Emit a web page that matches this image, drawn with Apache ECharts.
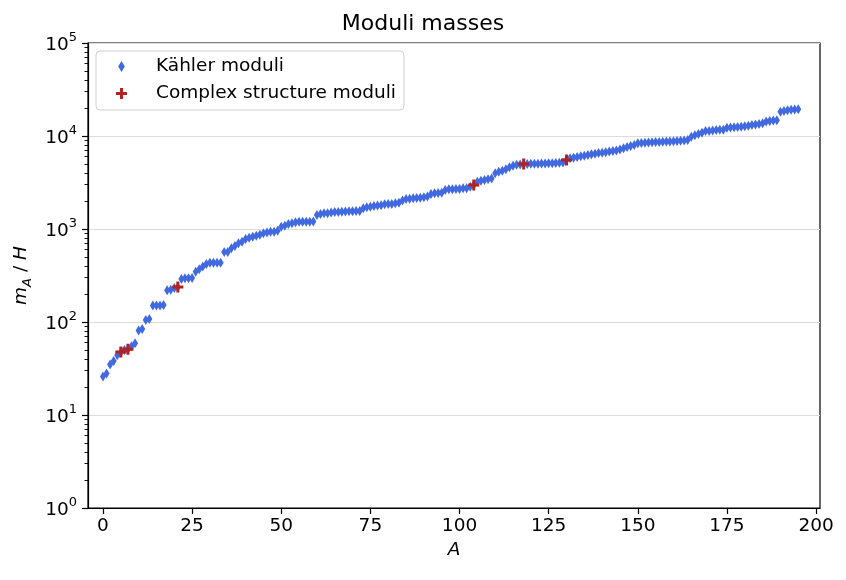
<!DOCTYPE html>
<html><head><meta charset="utf-8">
<script src="https://cdn.jsdelivr.net/npm/echarts@6/dist/echarts.min.js"></script>
<style>html,body{margin:0;padding:0;background:#fff}#c{width:846px;height:580px}</style>
</head><body><div id="c"></div>
<script>
// Kähler moduli masses m_A/H, index A = 0..195
const kahlerMasses = [
  26, 28, 35, 38, 44, 47, 50, 51, 55, 59,
  81, 84, 105, 108, 150, 150, 150, 152, 220, 222,
  232, 238, 290, 295, 295, 297, 347, 370, 394, 421,
  434, 434, 434, 434, 566, 566, 620, 656, 701, 730,
  780, 806, 826, 847, 868, 898, 919, 937, 937, 960,
  1060, 1085, 1132, 1152, 1180, 1195, 1198, 1200, 1200, 1205,
  1415, 1450, 1476, 1480, 1500, 1520, 1525, 1535, 1540, 1550,
  1555, 1560, 1565, 1670, 1710, 1730, 1766, 1790, 1800, 1842,
  1857, 1860, 1888, 1918, 2030, 2100, 2120, 2137, 2150, 2172,
  2200, 2240, 2379, 2420, 2440, 2460, 2626, 2672, 2680, 2694,
  2700, 2740, 2740, 2851, 2972, 3228, 3307, 3363, 3422, 3500,
  3970, 4132, 4237, 4387, 4600, 4800, 4900, 4950, 5000, 5010,
  5020, 5030, 5040, 5050, 5060, 5080, 5100, 5120, 5150, 5200,
  5523, 5754, 5850, 5950, 6050, 6150, 6250, 6350, 6450, 6550,
  6620, 6700, 6800, 6900, 7000, 7150, 7380, 7600, 7800, 8000,
  8340, 8400, 8450, 8500, 8550, 8600, 8640, 8690, 8720, 8750,
  8800, 8850, 8900, 8950, 9060, 9840, 10200, 10500, 10840, 11320,
  11350, 11450, 11600, 11650, 11700, 12280, 12350, 12450, 12500, 12590,
  12700, 12900, 13130, 13300, 13500, 13700, 14300, 14500, 14700, 14750,
  18250, 18600, 18900, 19100, 19300, 19360
];
// Complex structure moduli
const complexIndex = [5, 7, 21, 104, 118, 130];
const complexMasses = [47.6, 51, 238, 2972, 5000, 5523];

const xTicks = [0, 25, 50, 75, 100, 125, 150, 175, 200];
const yTicks = [1, 10, 100, 1000, 10000, 100000];
const yMinorTicks = [];
for (let d = 0; d < 5; d++) for (let k = 2; k <= 9; k++) yMinorTicks.push(k * Math.pow(10, d));

const FONT = 'DejaVu Sans';
const diamond = 'path://M3,0L6,5L3,10L0,5Z';
const plus = 'path://M4,0H7V4H11V7H7V11H4V7H0V4H4Z';

const chart = echarts.init(document.getElementById('c'), null, {renderer: 'canvas'});
chart.setOption({
  animation: false,
  backgroundColor: '#fff',
  textStyle: {fontFamily: FONT, color: '#000'},
  title: {
    text: 'Moduli masses', left: 'center', top: 8,
    textStyle: {fontFamily: FONT, fontSize: 22, fontWeight: 'normal', color: '#000'}
  },
  grid: {left: 88, right: 26, top: 43, bottom: 72, show: true, borderColor: '#000', borderWidth: 1.2, backgroundColor: 'transparent'},
  legend: {
    orient: 'vertical', left: 96, top: 51,
    padding: [6, 8, 7, 20], itemGap: 8,
    itemWidth: 11, itemHeight: 11,
    borderColor: '#d0d0d0', borderWidth: 1, borderRadius: 4, backgroundColor: '#fff',
    formatter: function (name) { return '{t|' + name + '}'; },
    textStyle: {
      fontFamily: FONT, fontSize: 18.5, color: '#000',
      rich: {t: {fontFamily: FONT, fontSize: 18.5, color: '#000', lineHeight: 20, padding: [0, 0, 0, 24]}}
    },
    data: [
      {name: 'Kähler moduli', icon: diamond},
      {name: 'Complex structure moduli', icon: plus}
    ]
  },
  xAxis: {
    type: 'value', min: -4.2, max: 201.1,
    name: 'A', nameLocation: 'middle', nameGap: 32,
    nameTextStyle: {fontFamily: FONT, fontSize: 18.5, fontStyle: 'italic', color: '#000'},
    axisLine: {onZero: false, lineStyle: {color: '#000', width: 1.2}},
    axisTick: {show: true, inside: false, length: 6, customValues: xTicks, lineStyle: {color: '#000', width: 1.2}},
    axisLabel: {customValues: xTicks, margin: 9, fontFamily: FONT, fontSize: 18.5, color: '#000'},
    splitLine: {show: false}
  },
  yAxis: [{
    type: 'log', logBase: 10, min: 1, max: 100000, splitNumber: 5, position: 'left',
    name: '{i|m}{s|A}{r| / }{i|H}', nameLocation: 'middle', nameGap: 52, nameRotate: 90,
    nameTextStyle: {
      rich: {
        i: {fontFamily: FONT, fontSize: 18.5, fontStyle: 'italic', color: '#000', lineHeight: 26, verticalAlign: 'middle'},
        s: {fontFamily: FONT, fontSize: 13, fontStyle: 'italic', color: '#000', lineHeight: 26, verticalAlign: 'bottom'},
        r: {fontFamily: FONT, fontSize: 18.5, color: '#000', lineHeight: 26, verticalAlign: 'middle'}
      }
    },
    axisLine: {onZero: false, lineStyle: {color: '#000', width: 1.2}},
    axisTick: {show: true, inside: false, length: 6, customValues: yTicks, lineStyle: {color: '#000', width: 1.2}},
    axisLabel: {
      customValues: yTicks, margin: 11,
      formatter: function (v) { return '{b|10}{e|' + Math.round(Math.log10(v)) + '}'; },
      rich: {
        b: {fontFamily: FONT, fontSize: 18.5, color: '#000', lineHeight: 24, verticalAlign: 'bottom'},
        e: {fontFamily: FONT, fontSize: 13, color: '#000', lineHeight: 24, verticalAlign: 'top'}
      }
    },
    splitLine: {show: true, lineStyle: {color: '#dcdcdc', width: 1}}
  }, {
    type: 'log', logBase: 10, min: 1, max: 100000, position: 'left', offset: 0,
    axisLine: {show: false, onZero: false},
    axisTick: {show: true, inside: false, length: 3.5, customValues: yMinorTicks, lineStyle: {color: '#000', width: 0.9}},
    axisLabel: {show: false},
    splitLine: {show: false}
  }],
  series: [{
    name: 'Kähler moduli', type: 'scatter', yAxisIndex: 0,
    symbol: diamond, symbolSize: [6, 10],
    itemStyle: {color: '#4169E1', opacity: 1},
    data: kahlerMasses.map((v, i) => [i, v]),
    z: 2
  }, {
    name: 'Complex structure moduli', type: 'scatter', yAxisIndex: 0,
    symbol: plus, symbolSize: 11,
    itemStyle: {color: '#B22222', opacity: 1},
    data: complexIndex.map((a, i) => [a, complexMasses[i]]),
    z: 3
  }]
});
</script>
</body></html>
